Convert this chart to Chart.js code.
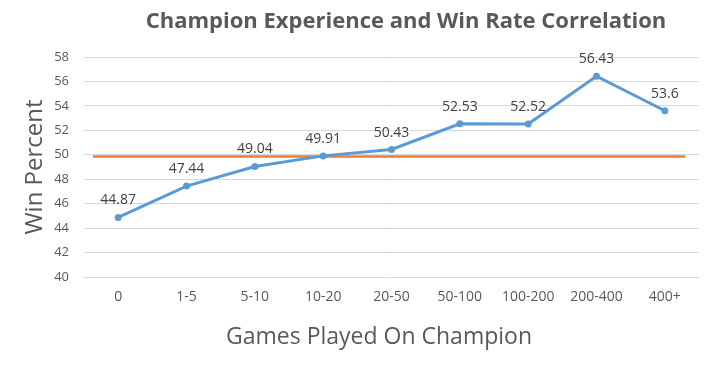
<!DOCTYPE html>
<html lang="en">
<head>
  <meta charset="UTF-8" />
  <title>Champion Experience and Win Rate Correlation</title>
  <script src="https://cdn.jsdelivr.net/npm/chart.js"></script>
  <style>
    html, body { margin: 0; padding: 0; background: #fff; }
    .wrap { width: 713px; height: 376px; }
  </style>
</head>
<body>
  <div class="wrap">
    <canvas id="grafico" width="713" height="376"></canvas>
  </div>

  <script>
    // dados
    const categorias = ["0", "1-5", "5-10", "10-20", "20-50", "50-100", "100-200", "200-400", "400+"];
    const winRate = [44.87, 47.44, 49.04, 49.91, 50.43, 52.53, 52.52, 56.43, 53.6];
    const linhaBaseX = [-0.37, 8.3];
    const linhaBaseY = [49.85, 49.85];
    const yTicks = [40, 42, 44, 46, 48, 50, 52, 54, 56, 58];

    Chart.defaults.font.family = "'Open Sans', sans-serif";
    Chart.defaults.color = "#595959";

    // titulo do grafico e do eixo x desenhados fora do centro, como no original
    const titulosPlugin = {
      id: "titulosPlugin",
      afterDraw(chart) {
        const ctx = chart.ctx;
        ctx.save();
        ctx.fillStyle = "#595959";
        ctx.textAlign = "center";
        ctx.textBaseline = "middle";
        ctx.font = "bold 22px 'Open Sans', sans-serif";
        ctx.fillText("Champion Experience and Win Rate Correlation", 406, 22);
        ctx.font = "23px 'Open Sans', sans-serif";
        ctx.fillText("Games Played On Champion", 379, 337);
        ctx.restore();
      }
    };

    const rotulosPlugin = {
      id: "rotulosPlugin",
      afterDatasetsDraw(chart) {
        const ctx = chart.ctx;
        const meta = chart.getDatasetMeta(0);
        ctx.save();
        ctx.font = "14px 'Open Sans', sans-serif";
        ctx.fillStyle = "#404040";
        ctx.textAlign = "center";
        ctx.textBaseline = "middle";
        meta.data.forEach((p, i) => {
          ctx.fillText(String(winRate[i]), p.x, p.y - 17);
        });
        ctx.restore();
      }
    };

    new Chart(document.getElementById("grafico"), {
      type: "line",
      data: {
        labels: categorias,
        datasets: [
          {
            label: "Win Rate",
            data: winRate,
            borderColor: "#5B9BD5",
            backgroundColor: "#5B9BD5",
            borderWidth: 3,
            pointRadius: 3.5,
            pointBorderWidth: 0,
            tension: 0,
            xAxisID: "x",
            order: 1
          },
          {
            label: "50%",
            data: linhaBaseX.map((x, i) => ({ x: x, y: linhaBaseY[i] })),
            borderColor: "#ED7D31",
            borderWidth: 2.5,
            pointRadius: 0,
            xAxisID: "x2",
            order: 2
          }
        ]
      },
      options: {
        responsive: false,
        animation: false,
        layout: { padding: { top: 57, right: 14, bottom: 0, left: 0 } },
        plugins: {
          legend: { display: false },
          tooltip: { enabled: false }
        },
        scales: {
          x: {
            type: "category",
            offset: true,
            grid: { display: false, drawTicks: false },
            border: { display: false },
            ticks: { padding: 12, font: { size: 14 }, color: "#595959", maxRotation: 0, autoSkip: false },
            afterFit: s => { s.height = 99; }
          },
          x2: {
            type: "linear",
            display: false,
            min: -0.5,
            max: 8.5
          },
          y: {
            min: 40,
            max: 58,
            afterBuildTicks: s => { s.ticks = yTicks.map(v => ({ value: v })); },
            grid: { color: "#d9d9d9", drawTicks: false, lineWidth: 1 },
            border: { display: false },
            ticks: { padding: 15, font: { size: 13 }, color: "#595959" },
            title: {
              display: true,
              text: "Win Percent",
              font: { size: 24 },
              color: "#595959",
              padding: { top: 21, bottom: 0 }
            },
            afterFit: s => { s.width = 84; }
          }
        }
      },
      plugins: [titulosPlugin, rotulosPlugin]
    });
  </script>
</body>
</html>
